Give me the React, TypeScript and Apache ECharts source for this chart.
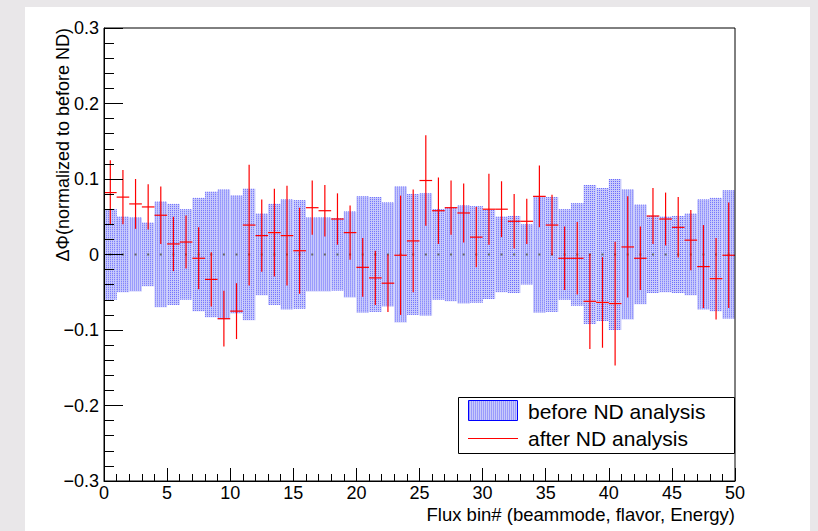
import React, { useEffect, useRef } from "react";
import * as echarts from "echarts";

// Flux bins 0..49 (bin i spans [i, i+1])
const binStarts: number[] = Array.from({ length: 50 }, (_, i) => i);

// before ND analysis: symmetric uncertainty band half-width around 0
const beforeErr: number[] = [
  0.060, 0.050, 0.049, 0.042, 0.070, 0.067, 0.060, 0.075, 0.083, 0.086,
  0.078, 0.087, 0.054, 0.067, 0.073, 0.072, 0.049, 0.049, 0.048, 0.057,
  0.077, 0.076, 0.069, 0.090, 0.080, 0.081, 0.060, 0.062, 0.065, 0.064,
  0.059, 0.050, 0.051, 0.040, 0.077, 0.076, 0.060, 0.068, 0.092, 0.088,
  0.100, 0.086, 0.066, 0.051, 0.050, 0.051, 0.054, 0.073, 0.075, 0.085,
];

// after ND analysis: central values and errors
const afterVal: number[] = [
  0.082, 0.076, 0.067, 0.063, 0.052, 0.014, 0.0165, -0.005, -0.033, -0.085,
  -0.075, 0.039, 0.025, 0.029, 0.025, 0.005, 0.062, 0.058, 0.047, 0.029,
  -0.017, -0.031, -0.038, -0.001, 0.018, 0.098, 0.058, 0.062, 0.055, 0.023,
  0.060, 0.060, 0.044, 0.044, 0.077, 0.039, -0.005, -0.005, -0.062, -0.0635,
  -0.065, 0.010, -0.005, 0.051, 0.047, 0.036, 0.019, -0.016, -0.032, -0.001,
];
const afterErr: number[] = [
  0.043, 0.036, 0.033, 0.030, 0.038, 0.036, 0.035, 0.041, 0.036, 0.037,
  0.037, 0.080, 0.048, 0.058, 0.066, 0.057, 0.036, 0.034, 0.034, 0.036,
  0.039, 0.036, 0.038, 0.079, 0.068, 0.060, 0.044, 0.036, 0.039, 0.040,
  0.047, 0.037, 0.036, 0.030, 0.041, 0.040, 0.042, 0.048, 0.063, 0.060,
  0.082, 0.067, 0.042, 0.037, 0.035, 0.040, 0.040, 0.055, 0.054, 0.070,
];

const xTickValues: number[] = [0, 5, 10, 15, 20, 25, 30, 35, 40, 45, 50];
const yTickValues: number[] = [-0.3, -0.2, -0.1, 0, 0.1, 0.2, 0.3];

const legendLabels: string[] = ["before ND analysis", "after ND analysis"];
const xTitle = "Flux bin# (beammode, flavor, Energy)";
const yTitle = "ΔΦ(normalized to before ND)";

const FONT = "'Liberation Sans', Arial, Helvetica, sans-serif";
const BAND_BG = "#c9cbfb";
const DOT_COLOR = "rgba(30,30,255,0.55)";

// dotted vertical-hatch fill for a rectangle (ROOT-like fill style)
function hatch(x: number, y: number, w: number, h: number, z?: number): any[] {
  const zz = z === undefined ? {} : { z };
  const out: any[] = [
    { type: "rect", ...zz, shape: { x, y, width: w, height: h }, style: { fill: BAND_BG, stroke: null } },
  ];
  const start = Math.ceil(x);
  for (let px = start; px < x + w - 0.5; px += 2) {
    out.push({
      type: "line",
      ...zz,
      shape: { x1: px + 0.5, y1: y, x2: px + 0.5, y2: y + h },
      style: { stroke: DOT_COLOR, lineWidth: 1, lineDash: [1, 1] },
    });
  }
  return out;
}

export default function App() {
  const ref = useRef<HTMLDivElement>(null);

  useEffect(() => {
    if (!ref.current) return;
    const chart = echarts.init(ref.current, undefined, { renderer: "svg" });

    const bandData = binStarts.map((x, i) => [x, beforeErr[i]]);
    const afterData = binStarts.map((x, i) => [x + 0.5, afterVal[i], afterErr[i]]);

    const fmtY = (v: number) => {
      const r = Math.round(v * 10) / 10;
      if (r === 0) return "0";
      return r < 0 ? "\u2212" + Math.abs(r).toFixed(1) : r.toFixed(1);
    };

    const option: any = {
      animation: false,
      backgroundColor: "#e9e7e9",
      grid: {
        left: 104,
        top: 28,
        width: 631,
        height: 453,
        show: true,
        borderColor: "#000",
        borderWidth: 1,
        backgroundColor: "transparent",
        z: 10,
      },
      xAxis: {
        type: "value",
        min: xTickValues[0],
        max: xTickValues[xTickValues.length - 1],
        interval: xTickValues[1] - xTickValues[0],
        axisLine: { show: true, onZero: false, lineStyle: { color: "#000", width: 1 } },
        axisTick: { show: true, inside: true, length: 13, lineStyle: { color: "#000" } },
        minorTick: { show: true, splitNumber: 5, length: 7, lineStyle: { color: "#000" } },
        splitLine: { show: false },
        axisLabel: {
          color: "#000",
          fontSize: 18,
          fontFamily: FONT,
          margin: 3,
          showMinLabel: true,
          showMaxLabel: true,
        },
        z: 10,
      },
      yAxis: {
        type: "value",
        min: yTickValues[0],
        max: yTickValues[yTickValues.length - 1],
        interval: 0.1,
        axisLine: { show: true, onZero: false, lineStyle: { color: "#000", width: 1 } },
        axisTick: { show: true, inside: true, length: 19, lineStyle: { color: "#000" } },
        minorTick: { show: true, splitNumber: 5, length: 10, lineStyle: { color: "#000" } },
        splitLine: { show: false },
        axisLabel: {
          color: "#000",
          fontSize: 18,
          fontFamily: FONT,
          margin: 5,
          formatter: fmtY,
          showMinLabel: true,
          showMaxLabel: true,
        },
        z: 10,
      },
      series: [
        {
          name: legendLabels[0],
          type: "custom",
          data: bandData,
          encode: { x: 0, y: 1 },
          z: 2,
          renderItem: (params: any, api: any) => {
            const x0 = api.value(0);
            const h = api.value(1);
            const p1 = api.coord([x0, h]);
            const p2 = api.coord([x0 + 1, -h]);
            const c = api.coord([x0 + 0.5, 0]);
            return {
              type: "group",
              children: [
                ...hatch(p1[0], p1[1], p2[0] - p1[0], p2[1] - p1[1]),
                {
                  type: "rect",
                  shape: { x: c[0] - 1, y: c[1] - 1, width: 2, height: 2 },
                  style: { fill: "#666", stroke: null },
                },
              ],
            };
          },
        },
        {
          name: legendLabels[1],
          type: "custom",
          data: afterData,
          encode: { x: 0, y: 1 },
          z: 5,
          renderItem: (params: any, api: any) => {
            const xc = api.value(0);
            const v = api.value(1);
            const e = api.value(2);
            const l = api.coord([xc - 0.5, v]);
            const r = api.coord([xc + 0.5, v]);
            const t = api.coord([xc, v + e]);
            const b = api.coord([xc, v - e]);
            const st = { stroke: "#ff0000", lineWidth: 1.2 };
            return {
              type: "group",
              children: [
                { type: "line", shape: { x1: l[0], y1: l[1], x2: r[0], y2: r[1] }, style: st },
                { type: "line", shape: { x1: t[0], y1: t[1], x2: b[0], y2: b[1] }, style: st },
              ],
            };
          },
        },
      ],
      graphic: [
        {
          type: "rect",
          z: -10,
          silent: true,
          shape: { x: 25, y: 7, width: 785, height: 530 },
          style: { fill: "#ffffff" },
        },
        {
          type: "text",
          z: 20,
          x: 63,
          y: 28,
          rotation: Math.PI / 2,
          style: {
            text: yTitle,
            fill: "#000",
            fontSize: 18,
            fontFamily: FONT,
            align: "right",
            verticalAlign: "middle",
          },
        },
        {
          type: "text",
          z: 20,
          x: 735,
          y: 514,
          style: {
            text: xTitle,
            fill: "#000",
            fontSize: 18.5,
            fontFamily: FONT,
            align: "right",
            verticalAlign: "middle",
          },
        },
        // legend
        {
          type: "rect",
          z: 20,
          shape: { x: 458.5, y: 397.5, width: 276, height: 56 },
          style: { fill: "#fff", stroke: "#000", lineWidth: 1 },
        },
        ...hatch(468.5, 400.5, 49, 20, 21),
        {
          type: "rect",
          z: 22,
          shape: { x: 468.5, y: 400.5, width: 49, height: 20 },
          style: { fill: "none", stroke: "#0000ff", lineWidth: 1 },
        },
        {
          type: "text",
          z: 21,
          x: 528,
          y: 411,
          style: {
            text: legendLabels[0],
            fill: "#000",
            fontSize: 21,
            fontFamily: FONT,
            align: "left",
            verticalAlign: "middle",
          },
        },
        {
          type: "line",
          z: 21,
          shape: { x1: 468, y1: 438.5, x2: 518, y2: 438.5 },
          style: { stroke: "#ff0000", lineWidth: 1 },
        },
        {
          type: "text",
          z: 21,
          x: 528,
          y: 438,
          style: {
            text: legendLabels[1],
            fill: "#000",
            fontSize: 21,
            fontFamily: FONT,
            align: "left",
            verticalAlign: "middle",
          },
        },
      ],
    };

    chart.setOption(option);
    return () => chart.dispose();
  }, []);

  return (
    <div
      ref={ref}
      style={{ position: "absolute", left: 0, top: 0, width: 818, height: 531 }}
    />
  );
}
